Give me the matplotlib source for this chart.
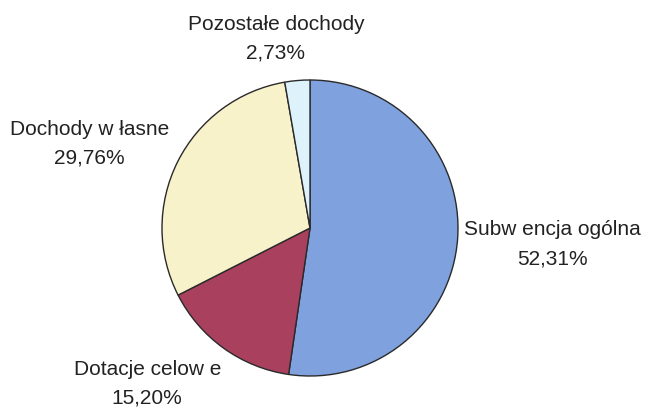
import matplotlib
matplotlib.use('Agg')
import matplotlib.pyplot as plt

matplotlib.rcParams['font.family'] = ['Liberation Sans', 'DejaVu Sans']

names = ['Subw encja ogólna', 'Dotacje celow e', 'Dochody w łasne', 'Pozostałe dochody']
shares = [52.31, 15.20, 29.76, 2.73]
colors = ['#7fa1de', '#a8405e', '#f8f2cb', '#def2fb']
label_pos = [(1.64, -0.11), (-1.10, -1.05), (-1.49, 0.57), (-0.23, 1.28)]

fig = plt.figure(figsize=(6.45, 4.11), dpi=100)
ax = fig.add_axes([0, 0, 1, 1])

ax.pie(shares, colors=colors, startangle=90, counterclock=False, radius=1,
       wedgeprops=dict(edgecolor='#2a2a2a', linewidth=1.0))

for name, val, (x, y) in zip(names, shares, label_pos):
    txt = name + '\n' + ('%.2f%%' % val).replace('.', ',')
    ax.text(x, y, txt, ha='center', va='center', fontsize=15,
            linespacing=1.65, color='#222222')

ax.set_xlim(-310 / 148, (645 - 310) / 148)
ax.set_ylim(-(411 - 228) / 148, 228 / 148)
ax.set_aspect('equal')
ax.axis('off')

fig.savefig('out.png', dpi=100)
